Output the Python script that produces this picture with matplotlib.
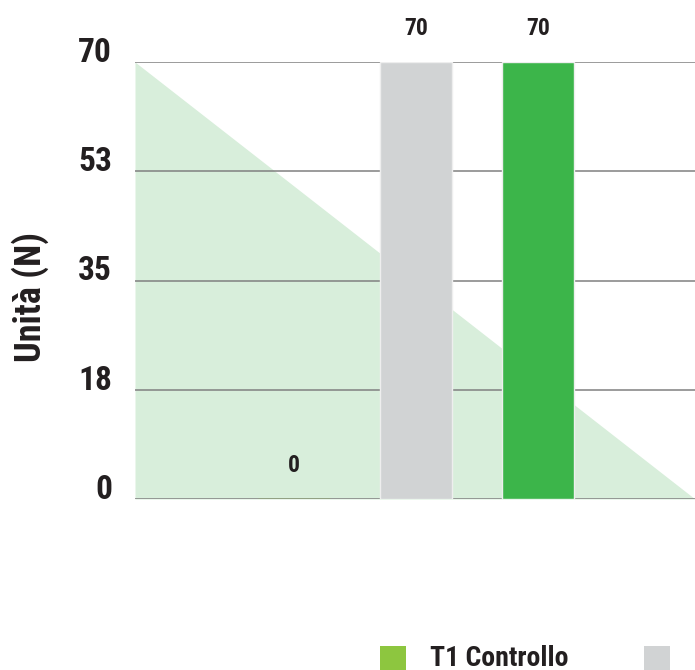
import matplotlib
matplotlib.use("Agg")
import matplotlib.pyplot as plt
from matplotlib import font_manager
from matplotlib.patches import Rectangle
import numpy as np

# values
categories = ["T1 Controllo", "T2", "T3"]
bar_values = [0, 70, 70]
bar_colors = ["#8dc63f", "#d1d3d4", "#3cb54a"]
area_values = [70, 0]          # light green background slope, left edge -> right edge
y_ticks = [0, 17.5, 35, 52.5, 70]
y_tick_labels = ["0", "18", "35", "53", "70"]
legend_labels = ["T1 Controllo", ""]
legend_colors = ["#8dc63f", "#d1d3d4"]

# look for a narrow bold face, the original uses a condensed grotesk
narrow = None
for f in font_manager.fontManager.ttflist:
    name = f.fname.lower()
    if ("narrow-bold." in name or "condensed-bold." in name) and "oblique" not in name:
        narrow = f.fname
        if "liberation" in name:
            break


def fp(size):
    if narrow:
        return font_manager.FontProperties(fname=narrow, size=size)
    return font_manager.FontProperties(family="DejaVu Sans", weight="bold", size=size)


text_col = "#231f20"

fig = plt.figure(figsize=(6.95, 6.70), dpi=100)
ax = fig.add_axes([135 / 695, 171 / 670, 560 / 695, 437 / 670])

x = np.arange(len(categories))
x_lo, x_hi = -1.307, 3.287

# background triangle
ax.fill_between([x_lo, x_hi], area_values, 0, color="#d8eedb", lw=0, zorder=1)

# gridlines
for t in y_ticks:
    ax.axhline(t, color="#808080", lw=1.1, zorder=2)

bars = ax.bar(x, bar_values, width=0.59, color=bar_colors, zorder=3,
              edgecolor="#eeeeee", linewidth=1)
bars[0].set_edgecolor(bar_colors[0])

for xi, v in zip(x, bar_values):
    ax.annotate(f"{v}", (xi, v), xytext=(0, 19.5), textcoords="offset points",
                ha="center", va="baseline", fontproperties=fp(17), color=text_col,
                annotation_clip=False)

ax.set_xlim(x_lo, x_hi)
ax.set_ylim(0, 70)
ax.set_xticks([])
ax.set_yticks(y_ticks, y_tick_labels)
ax.tick_params(axis="y", length=0, pad=16.5, labelcolor=text_col)
for lab in ax.get_yticklabels():
    lab.set_verticalalignment("baseline")
    lab.set_fontproperties(fp(24))
for s in ax.spines.values():
    s.set_visible(False)

fig.text(30 / 695, 1 - 297 / 670, "Unità (N)", rotation=90, ha="center",
         va="center", fontproperties=fp(26), color=text_col)

# legend drawn by hand, it runs off the bottom/right of the picture
leg_x = [380, 644]
for lx, lab, c in zip(leg_x, legend_labels, legend_colors):
    fig.add_artist(Rectangle((lx / 695, 1 - 672 / 670), 26 / 695, 26 / 670,
                             transform=fig.transFigure, color=c, lw=0))
    if lab:
        fig.text((lx + 50) / 695, 1 - 658 / 670, lab, ha="left", va="center",
                 fontproperties=fp(20), color=text_col)

fig.savefig("out.png", dpi=100)
